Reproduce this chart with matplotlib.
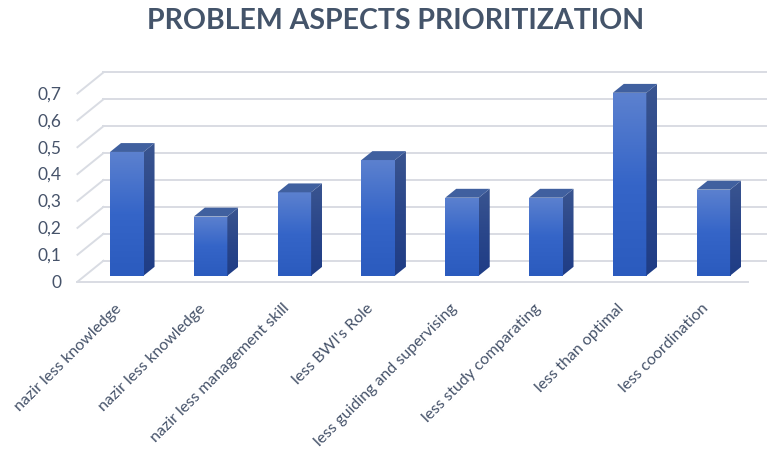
import numpy as np
import matplotlib.pyplot as plt
from matplotlib.patches import Polygon, Rectangle
from matplotlib.colors import LinearSegmentedColormap

# Chart data
categories = ["nazir less knowledge", "nazir less knowledge", "nazir less management skill",
              "less BWI's Role", "less guiding and supervising", "less study comparating",
              "less than optimal", "less coordination"]
values = [0.46, 0.22, 0.31, 0.43, 0.29, 0.29, 0.68, 0.32]
yticks = [0, 0.1, 0.2, 0.3, 0.4, 0.5, 0.6, 0.7]
ytick_labels = ["0", "0,1", "0,2", "0,3", "0,4", "0,5", "0,6", "0,7"]

plt.rcParams['font.family'] = ['Lato', 'DejaVu Sans']
text_col = '#46536A'
grid_col = '#D9DCE3'

fig = plt.figure(figsize=(7.67, 4.56), dpi=100)
ax = fig.add_axes([0, 0, 1, 1])
ax.axis('off')

# oblique depth vector (full floor depth) in data units
depth_x, depth_y = 0.310, 0.078
f_front = 0.286          # bar front plane sits this far behind the floor front
f_back = 1 - f_front
bar_depth = 0.423
width = 0.40
n = len(categories)

# back wall gridlines + left wall diagonals
for v in yticks:
    yb = v + f_back * depth_y
    xb = -0.5 + f_back * depth_x
    ax.plot([xb, n - 0.5 + f_back * depth_x], [yb, yb], color=grid_col, lw=1.4, zorder=1)
    ax.plot([-0.5 - f_front * depth_x, xb], [v - f_front * depth_y, yb],
            color=grid_col, lw=1.4, zorder=1)
# floor front edge
ax.plot([-0.5 - f_front * depth_x, n - 0.5 - f_front * depth_x],
        [-f_front * depth_y, -f_front * depth_y], color=grid_col, lw=1.4, zorder=1)

front_cmap = LinearSegmentedColormap.from_list('front', ['#2B5BBE', '#3565C8', '#5C81CF'])
side_cmap = LinearSegmentedColormap.from_list('side', ['#1F3D86', '#2A468A', '#3A5590'])
grad = np.linspace(0, 1, 256).reshape(-1, 1)

ddx, ddy = bar_depth * depth_x, bar_depth * depth_y
for i, v in enumerate(values):
    x0, x1 = i - width / 2, i + width / 2
    # front face
    rect = Rectangle((x0, 0), width, v, facecolor='none', edgecolor='none')
    ax.add_patch(rect)
    im = ax.imshow(grad, extent=[x0, x1, 0, v], origin='lower', cmap=front_cmap,
                   aspect='auto', zorder=3)
    im.set_clip_path(rect)
    # right side face
    side = Polygon([(x1, 0), (x1 + ddx, ddy), (x1 + ddx, v + ddy), (x1, v)],
                   closed=True, facecolor='none', edgecolor='none')
    ax.add_patch(side)
    im2 = ax.imshow(grad, extent=[x1, x1 + ddx, 0, v + ddy], origin='lower', cmap=side_cmap,
                    aspect='auto', zorder=3)
    im2.set_clip_path(side)
    # top face
    top = Polygon([(x0, v), (x1, v), (x1 + ddx, v + ddy), (x0 + ddx, v + ddy)],
                  closed=True, facecolor='#40609F', edgecolor='none', zorder=4)
    ax.add_patch(top)

ax.set_xlim(-1.513, 7.64)
ax.set_ylim(-0.6665, 1.0286)

# value labels on the front-left edge
for v, lab in zip(yticks, ytick_labels):
    ax.text(-0.785, v - f_front * depth_y, lab, ha='right', va='center',
            fontsize=12.5, color=text_col)

# category labels
for i, lab in enumerate(categories):
    ax.text(i - 0.09, -0.11, lab, ha='right', va='center', rotation=45,
            rotation_mode='anchor', fontsize=11.5, color=text_col)

fig.text(0.516, 0.954, "PROBLEM ASPECTS PRIORITIZATION", ha='center', va='center',
         fontsize=20.5, fontweight='bold', color='#44546A')

fig.savefig('out.png', dpi=100)
